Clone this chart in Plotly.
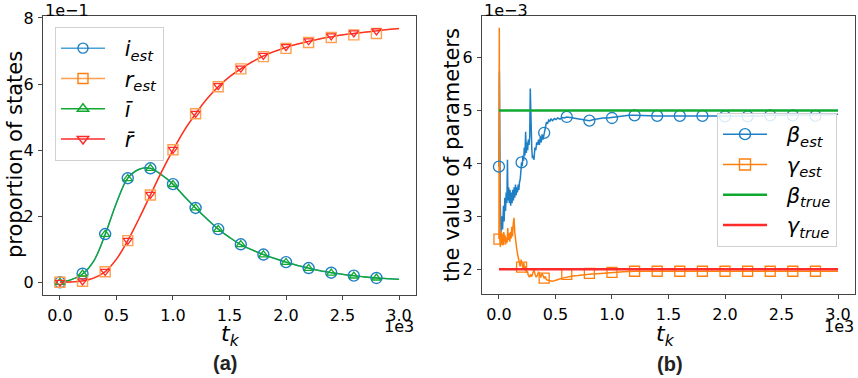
import plotly.graph_objects as go

# ---------------- data: panel (a)  (y in units of 1e-1, t in raw units) -------------
t_line = [0, 100, 200, 300, 400, 500, 600, 700, 800, 900, 1000, 1100, 1200, 1300, 1400,
          1500, 1600, 1700, 1800, 1900, 2000, 2100, 2200, 2300, 2400, 2500, 2600, 2700,
          2800, 2900, 3000]
i_line = [0.0, 0.08, 0.25, 0.65, 1.45, 2.4, 3.15, 3.42, 3.45, 3.25, 2.97, 2.6, 2.25, 1.92,
          1.61, 1.36, 1.14, 0.98, 0.84, 0.72, 0.61, 0.51, 0.43, 0.35, 0.29, 0.24, 0.2, 0.16,
          0.13, 0.11, 0.09]
r_line = [0.0, 0.01, 0.04, 0.13, 0.32, 0.7, 1.26, 1.93, 2.64, 3.35, 4.0, 4.6, 5.1, 5.55,
          5.92, 6.22, 6.46, 6.67, 6.85, 6.99, 7.11, 7.21, 7.29, 7.37, 7.43, 7.49, 7.53, 7.57,
          7.61, 7.65, 7.68]

t_mark = [0, 200, 400, 600, 800, 1000, 1200, 1400, 1600, 1800, 2000, 2200, 2400, 2600, 2800]
i_est_m = [0.0, 0.26, 1.46, 3.15, 3.45, 2.97, 2.25, 1.61, 1.15, 0.84, 0.61, 0.43, 0.29, 0.2, 0.13]
i_bar_m = [0.0, 0.25, 1.45, 3.14, 3.45, 2.96, 2.25, 1.6, 1.14, 0.83, 0.6, 0.42, 0.28, 0.19, 0.13]
r_est_m = [0.0, 0.03, 0.32, 1.26, 2.64, 4.01, 5.1, 5.92, 6.46, 6.83, 7.08, 7.26, 7.41, 7.49, 7.53]
r_bar_m = [0.0, 0.04, 0.33, 1.27, 2.66, 4.02, 5.11, 5.95, 6.48, 6.87, 7.13, 7.31, 7.46, 7.55, 7.61]

# ---------------- data: panel (b)  (y in units of 1e-3) ------------------------------
t_beta = [0, 4, 12, 18, 25, 32, 40, 46, 52, 58, 64, 70, 75, 80, 86, 92, 98, 104, 110, 116,
          122, 128, 134, 140, 146, 152, 158, 164, 170, 176, 182, 188, 194, 200, 206, 212,
          218, 224, 230, 236, 242, 248, 254, 260, 266, 272, 277, 283, 290, 296, 304, 310,
          318, 326, 334, 342, 350, 358, 366, 374, 382, 390, 400, 410, 420, 430, 440, 450,
          460, 475, 490, 505, 520, 540, 560, 580, 600, 630, 660, 700, 740, 780, 800, 840,
          880, 920, 960, 1000, 1050, 1100, 1150, 1200, 1300, 1400, 1500, 1600, 1700, 1800,
          1900, 2000, 2100, 2200, 2300, 2400, 2500, 2600, 2700, 2800, 2900, 3000]
beta_line = [3.94, 5.74, 3.2, 2.69, 3.0, 2.75, 3.2, 2.9, 3.35, 3.1, 3.45, 3.25, 4.07, 3.3,
             3.55, 3.25, 3.5, 3.2, 3.45, 3.25, 3.5, 3.3, 3.55, 3.35, 3.6, 3.4, 3.55, 3.45,
             3.6, 3.5, 3.65, 3.7, 3.85, 4.02, 3.95, 4.15, 4.05, 4.3, 4.15, 4.6, 4.2, 4.4,
             4.25, 4.45, 4.35, 4.5, 5.42, 4.6, 4.3, 4.1, 4.15, 4.07, 4.3, 4.25, 4.4, 4.35,
             4.45, 4.35, 4.5, 4.4, 4.55, 4.45, 4.58, 4.7, 4.78, 4.75, 4.82, 4.8, 4.84, 4.81,
             4.85, 4.83, 4.86, 4.84, 4.87, 4.86, 4.88, 4.87, 4.86, 4.85, 4.83, 4.81, 4.81,
             4.83, 4.85, 4.86, 4.86, 4.87, 4.89, 4.9, 4.91, 4.91, 4.9, 4.9, 4.9, 4.9, 4.9,
             4.9, 4.9, 4.89, 4.89, 4.89, 4.9, 4.91, 4.91, 4.91, 4.91, 4.91, 4.92, 4.93]
t_gamma = [0, 3, 7, 12, 18, 24, 30, 36, 42, 48, 54, 60, 66, 72, 78, 84, 90, 96, 102, 108,
           114, 120, 126, 133, 140, 148, 156, 165, 172, 180, 188, 196, 204, 212, 220, 228,
           236, 244, 252, 260, 270, 280, 290, 300, 310, 320, 330, 340, 350, 360, 370, 380,
           390, 400, 410, 420, 435, 450, 470, 490, 510, 530, 560, 600, 650, 700, 760, 820,
           900, 1000, 1100, 1200, 1400, 1600, 1800, 2000, 2200, 2400, 2600, 2800, 3000]
gamma_line = [2.57, 6.57, 2.6, 2.42, 2.72, 2.48, 2.65, 2.45, 2.7, 2.52, 2.64, 2.47, 2.6, 2.5,
              2.78, 2.55, 2.68, 2.52, 2.7, 2.58, 2.8, 2.62, 2.85, 2.97, 2.7, 2.5, 2.4, 2.28,
              2.2, 2.15, 2.05, 2.18, 2.1, 2.02, 2.12, 1.98, 2.06, 1.93, 1.96, 1.88, 1.85, 1.9,
              1.86, 1.95, 1.99, 1.9, 1.85, 1.88, 1.95, 1.9, 1.84, 1.92, 1.86, 1.83, 1.86, 1.8,
              1.79, 1.78, 1.77, 1.78, 1.8, 1.81, 1.83, 1.85, 1.87, 1.88, 1.9, 1.91, 1.92,
              1.94, 1.95, 1.96, 1.96, 1.96, 1.96, 1.96, 1.96, 1.96, 1.97, 1.97, 1.96]
beta_m = [3.94, 4.02, 4.58, 4.88, 4.81, 4.86, 4.91, 4.9, 4.9, 4.9, 4.89, 4.89, 4.91, 4.91, 4.9]
gamma_m = [2.57, 2.04, 1.83, 1.9, 1.92, 1.94, 1.96, 1.96, 1.96, 1.96, 1.96, 1.96, 1.96, 1.96, 1.96]
t_true = [0, 3000]
beta_true = [5.0, 5.0]
gamma_true = [2.0, 2.0]

x_ticks = [0, 500, 1000, 1500, 2000, 2500, 3000]
x_ticktext = ["0.0", "0.5", "1.0", "1.5", "2.0", "2.5", "3.0"]
ya_ticks = [0, 2, 4, 6, 8]
yb_ticks = [2, 3, 4, 5, 6]

BLUE = "#1f7fc4"
BLUE_L = "#4aa0d6"
ORANGE = "#ff7f0e"
ORANGE_L = "#ffa050"
GREEN = "#10a830"
RED = "#ff2a2a"
FONT = "DejaVu Sans"
GAP = "\u2002\u2009"   # extra gap between legend symbol and text

fig = go.Figure()

# ---- panel (a) lines ----
fig.add_trace(go.Scatter(x=t_line, y=i_line, mode="lines", line=dict(color=BLUE_L, width=1.5, shape="spline"),
                         showlegend=False, xaxis="x", yaxis="y"))
fig.add_trace(go.Scatter(x=t_line, y=r_line, mode="lines", line=dict(color=ORANGE_L, width=1.5, shape="spline"),
                         showlegend=False, xaxis="x", yaxis="y"))
fig.add_trace(go.Scatter(x=t_line, y=i_line, mode="lines", line=dict(color=GREEN, width=1.3, shape="spline"),
                         showlegend=False, xaxis="x", yaxis="y"))
fig.add_trace(go.Scatter(x=t_line, y=r_line, mode="lines", line=dict(color=RED, width=1.3, shape="spline"),
                         showlegend=False, xaxis="x", yaxis="y"))
# ---- panel (a) markers ----
fig.add_trace(go.Scatter(x=t_mark, y=i_est_m, mode="markers",
                         marker=dict(symbol="circle-open", size=11, color=BLUE, line=dict(width=1.4)),
                         showlegend=False, xaxis="x", yaxis="y"))
fig.add_trace(go.Scatter(x=t_mark, y=r_est_m, mode="markers",
                         marker=dict(symbol="square-open", size=10, color=ORANGE_L, line=dict(width=1.4)),
                         showlegend=False, xaxis="x", yaxis="y"))
fig.add_trace(go.Scatter(x=t_mark, y=i_bar_m, mode="markers",
                         marker=dict(symbol="triangle-up-open", size=8, color=GREEN, line=dict(width=1.3)),
                         showlegend=False, xaxis="x", yaxis="y"))
fig.add_trace(go.Scatter(x=t_mark, y=r_bar_m, mode="markers",
                         marker=dict(symbol="triangle-down-open", size=8, color=RED, line=dict(width=1.3)),
                         showlegend=False, xaxis="x", yaxis="y"))
# ---- panel (a) legend entries ----
leg_a = [("<i>i</i><sub><i>est</i></sub>", BLUE_L, "circle-open", BLUE),
         ("<i>r</i><sub><i>est</i></sub>", ORANGE_L, "square-open", ORANGE),
         ("<i>ī</i>", GREEN, "triangle-up-open", GREEN),
         ("<i>r̄</i>", RED, "triangle-down-open", RED)]
for name, lc, sym, mc in leg_a:
    fig.add_trace(go.Scatter(x=[None], y=[None], mode="lines+markers", name=GAP + name,
                             line=dict(color=lc, width=1.5),
                             marker=dict(symbol=sym, size=10, color=mc, line=dict(width=1.4)),
                             legend="legend", xaxis="x", yaxis="y"))

# ---- panel (b) ----
fig.add_trace(go.Scatter(x=t_beta, y=beta_line, mode="lines", line=dict(color=BLUE, width=1.5),
                         showlegend=False, xaxis="x2", yaxis="y2"))
fig.add_trace(go.Scatter(x=t_gamma, y=gamma_line, mode="lines", line=dict(color=ORANGE, width=1.5),
                         showlegend=False, xaxis="x2", yaxis="y2"))
fig.add_trace(go.Scatter(x=t_mark, y=beta_m, mode="markers",
                         marker=dict(symbol="circle-open", size=11, color=BLUE, line=dict(width=1.3)),
                         showlegend=False, xaxis="x2", yaxis="y2"))
fig.add_trace(go.Scatter(x=t_mark, y=gamma_m, mode="markers",
                         marker=dict(symbol="square-open", size=10, color=ORANGE, line=dict(width=1.3)),
                         showlegend=False, xaxis="x2", yaxis="y2"))
fig.add_trace(go.Scatter(x=t_true, y=beta_true, mode="lines", line=dict(color=GREEN, width=2.5),
                         showlegend=False, xaxis="x2", yaxis="y2"))
fig.add_trace(go.Scatter(x=t_true, y=gamma_true, mode="lines", line=dict(color=RED, width=2.5),
                         showlegend=False, xaxis="x2", yaxis="y2"))
leg_b = [("<i>β</i><sub><i>est</i></sub>", BLUE, "circle-open", 1.5),
         ("<i>γ</i><sub><i>est</i></sub>", ORANGE, "square-open", 1.5),
         ("<i>β</i><sub><i>true</i></sub>", GREEN, None, 2.5),
         ("<i>γ</i><sub><i>true</i></sub>", RED, None, 2.5)]
for name, c, sym, w in leg_b:
    if sym:
        fig.add_trace(go.Scatter(x=[None], y=[None], mode="lines+markers", name=GAP + name,
                                 line=dict(color=c, width=w),
                                 marker=dict(symbol=sym, size=11, color=c, line=dict(width=1.4)),
                                 legend="legend2", xaxis="x2", yaxis="y2"))
    else:
        fig.add_trace(go.Scatter(x=[None], y=[None], mode="lines", name=GAP + name,
                                 line=dict(color=c, width=w),
                                 legend="legend2", xaxis="x2", yaxis="y2"))

W, H = 858, 378
def px(x): return x / W
def py(y): return 1 - y / H

axis_common = dict(showline=True, mirror=True, linecolor="#444", linewidth=1.1,
                   ticks="outside", ticklen=4, tickwidth=1, tickcolor="#444",
                   showgrid=False, zeroline=False, automargin=False,
                   tickfont=dict(family=FONT, size=16, color="black"))

fig.update_layout(
    width=W, height=H, margin=dict(l=0, r=0, t=0, b=0, autoexpand=False),
    paper_bgcolor="white", plot_bgcolor="white",
    xaxis=dict(domain=[px(43), px(416)], range=[-150, 3150], tickvals=x_ticks,
               ticktext=x_ticktext, anchor="y", ticklabelstandoff=2, **axis_common),
    yaxis=dict(domain=[py(295), py(16)], range=[-0.385, 8.06], tickvals=ya_ticks,
               anchor="x", ticklabelstandoff=1, **axis_common),
    xaxis2=dict(domain=[px(482), px(855)], range=[-150, 3150], tickvals=x_ticks,
                ticktext=x_ticktext, anchor="y2", ticklabelstandoff=2, **axis_common),
    yaxis2=dict(domain=[py(294), py(16)], range=[1.53, 6.79], tickvals=yb_ticks,
                anchor="x2", ticklabelstandoff=1, **axis_common),
    legend=dict(x=px(55), y=py(27), xanchor="left", yanchor="top",
                bgcolor="rgba(255,255,255,0.85)", bordercolor="#d0d0d0", borderwidth=1,
                font=dict(family=FONT, size=21, color="black"), itemwidth=44,
                traceorder="normal"),
    legend2=dict(x=px(717), y=py(113), xanchor="left", yanchor="top",
                 bgcolor="rgba(255,255,255,0.85)", bordercolor="#d0d0d0", borderwidth=1,
                 font=dict(family=FONT, size=21, color="black"), itemwidth=44,
                 traceorder="normal"),
    annotations=[
        dict(text="1e−1", x=px(43), y=py(10), xref="paper", yref="paper", xanchor="left",
             yanchor="middle", showarrow=False, font=dict(family=FONT, size=16, color="black")),
        dict(text="1e−3", x=px(482), y=py(10), xref="paper", yref="paper", xanchor="left",
             yanchor="middle", showarrow=False, font=dict(family=FONT, size=16, color="black")),
        dict(text="1e3", x=px(416), y=py(326), xref="paper", yref="paper", xanchor="right",
             yanchor="middle", showarrow=False, font=dict(family=FONT, size=16, color="black")),
        dict(text="1e3", x=px(856), y=py(326), xref="paper", yref="paper", xanchor="right",
             yanchor="middle", showarrow=False, font=dict(family=FONT, size=16, color="black")),
        dict(text="<i>t</i><sub><i>k</i></sub>", x=px(230), y=py(335), xref="paper", yref="paper",
             xanchor="center", yanchor="middle", showarrow=False,
             font=dict(family=FONT, size=22, color="black")),
        dict(text="<i>t</i><sub><i>k</i></sub>", x=px(665), y=py(335), xref="paper", yref="paper",
             xanchor="center", yanchor="middle", showarrow=False,
             font=dict(family=FONT, size=22, color="black")),
        dict(text="proportion of states", x=px(15), y=py(155), xref="paper", yref="paper",
             xanchor="center", yanchor="middle", textangle=-90, showarrow=False,
             font=dict(family=FONT, size=21, color="black")),
        dict(text="the value of parameters", x=px(452), y=py(155), xref="paper", yref="paper",
             xanchor="center", yanchor="middle", textangle=-90, showarrow=False,
             font=dict(family=FONT, size=21, color="black")),
        dict(text="<b>(a)</b>", x=px(225), y=py(363), xref="paper", yref="paper",
             xanchor="center", yanchor="middle", showarrow=False,
             font=dict(family="Liberation Sans", size=20, color="#222")),
        dict(text="<b>(b)</b>", x=px(670), y=py(364), xref="paper", yref="paper",
             xanchor="center", yanchor="middle", showarrow=False,
             font=dict(family="Liberation Sans", size=20, color="#222")),
    ],
)

fig.write_html("out.html", config={"displayModeBar": False},
               post_script="document.body.style.margin='0';document.body.style.overflow='hidden';")
